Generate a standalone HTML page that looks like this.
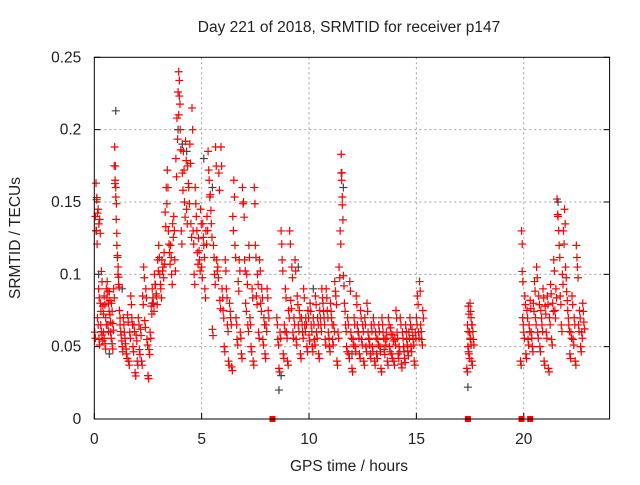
<!DOCTYPE html>
<html><head><meta charset="utf-8"><style>
body{margin:0;background:#fff;}
svg text{font-family:"Liberation Sans",sans-serif;fill:#222;}
</style></head><body>
<svg id="chart" width="640" height="480" xmlns="http://www.w3.org/2000/svg">
<text x="349" y="32" font-size="15.5" text-anchor="middle">Day 221 of 2018, SRMTID for receiver p147</text>
<text x="349" y="471" font-size="15.5" text-anchor="middle">GPS time / hours</text>
<text transform="translate(20,238) rotate(-90)" font-size="15.5" text-anchor="middle">SRMTID / TECUs</text>
<g id="grid"></g><g id="ticks"></g><g id="black"></g><g id="marks"></g><g id="gaps"></g>
<rect x="94.3" y="57.3" width="515.3" height="361.7" fill="none" stroke="#000" stroke-width="1"/>
</svg>
<script>
const xTicks=[0,5,10,15,20];
const yTicks=[0,0.05,0.1,0.15,0.2,0.25];
const yTickLabels=["0","0.05","0.1","0.15","0.2","0.25"];
const gapTimes=[8.3,17.4,19.9,20.3];
const blackPoints=[[0.2,0.1],[0.7,0.045],[1.0,0.213],[1.3,0.09],[2.7,0.08],[3.9,0.2],[4.1,0.19],[4.3,0.185],[5.1,0.18],[5.5,0.16],[8.6,0.02],[8.7,0.03],[9.5,0.105],[10.2,0.09],[11.5,0.17],[11.6,0.16],[12.0,0.045],[17.4,0.022],[21.6,0.15]];
const points=[
[0.02,0.06],[0.05,0.14],[0.08,0.163],[0.1,0.13],[0.12,0.153],[0.15,0.07],[0.18,0.145],[0.2,0.09],[0.22,0.055],[0.25,0.138],[0.28,0.08],[0.3,0.065],[0.33,0.102],[0.36,0.058],[0.4,0.078],[0.43,0.06],[0.46,0.085],[0.5,0.052],[0.53,0.07],[0.56,0.09],[0.6,0.095],[0.63,0.065],[0.66,0.08],[0.7,0.088],[0.73,0.072],[0.76,0.06],[0.8,0.08],[0.83,0.052],[0.86,0.066],[0.9,0.09],[0.93,0.175],[0.95,0.188],[0.97,0.165],[1.0,0.16],[1.02,0.138],[1.05,0.12],[1.08,0.113],[1.1,0.1],[1.13,0.098],[1.17,0.075],[1.2,0.065],[1.25,0.058],[1.3,0.05],[1.35,0.07],[1.4,0.06],[1.45,0.052],[1.5,0.045],[1.55,0.072],[1.6,0.04],[1.65,0.06],[1.7,0.085],[1.75,0.07],[1.8,0.05],[1.85,0.065],[1.9,0.032],[1.95,0.058],[2.0,0.04],[2.05,0.07],[2.1,0.048],[2.15,0.062],[2.2,0.04],[2.25,0.085],[2.3,0.105],[2.35,0.068],[2.4,0.09],[2.45,0.055],[2.5,0.03],[2.55,0.048],[2.6,0.06],[2.65,0.078],[2.7,0.09],[2.75,0.08],[2.8,0.1],[2.85,0.093],[2.9,0.085],[2.95,0.11],[3.0,0.12],[3.05,0.1],[3.1,0.09],[3.15,0.11],[3.2,0.105],[3.25,0.115],[3.3,0.143],[3.35,0.16],[3.4,0.172],[3.45,0.13],[3.5,0.115],[3.55,0.12],[3.6,0.1],[3.65,0.135],[3.7,0.14],[3.75,0.11],[3.8,0.18],[3.85,0.208],[3.9,0.226],[3.93,0.24],[3.96,0.234],[4.0,0.2],[4.05,0.13],[4.1,0.17],[4.15,0.185],[4.2,0.15],[4.25,0.192],[4.3,0.145],[4.35,0.175],[4.4,0.16],[4.45,0.19],[4.5,0.135],[4.55,0.215],[4.6,0.13],[4.65,0.1],[4.7,0.16],[4.75,0.14],[4.8,0.115],[4.85,0.125],[4.9,0.11],[4.95,0.145],[5.0,0.105],[5.05,0.135],[5.1,0.12],[5.15,0.09],[5.2,0.13],[5.25,0.14],[5.3,0.185],[5.35,0.165],[5.4,0.155],[5.45,0.135],[5.5,0.062],[5.55,0.12],[5.6,0.1],[5.65,0.188],[5.7,0.11],[5.75,0.105],[5.8,0.17],[5.85,0.082],[5.9,0.188],[5.95,0.09],[6.0,0.075],[6.05,0.05],[6.1,0.11],[6.15,0.09],[6.2,0.065],[6.25,0.04],[6.3,0.08],[6.35,0.07],[6.4,0.036],[6.45,0.14],[6.5,0.165],[6.55,0.12],[6.6,0.07],[6.65,0.055],[6.7,0.095],[6.75,0.11],[6.8,0.06],[6.85,0.045],[6.9,0.16],[6.95,0.15],[7.0,0.11],[7.05,0.08],[7.1,0.1],[7.15,0.065],[7.2,0.12],[7.25,0.07],[7.3,0.05],[7.35,0.09],[7.4,0.04],[7.45,0.16],[7.5,0.12],[7.55,0.085],[7.6,0.1],[7.65,0.06],[7.7,0.11],[7.75,0.08],[7.8,0.09],[7.85,0.055],[7.9,0.07],[7.95,0.045],[8.0,0.065],[8.05,0.09],[8.1,0.075],[8.5,0.07],[8.55,0.055],[8.6,0.035],[8.65,0.06],[8.7,0.13],[8.75,0.11],[8.8,0.045],[8.85,0.065],[8.9,0.09],[8.95,0.06],[9.0,0.04],[9.05,0.075],[9.1,0.13],[9.15,0.082],[9.2,0.105],[9.25,0.06],[9.3,0.07],[9.35,0.11],[9.4,0.055],[9.45,0.085],[9.5,0.065],[9.55,0.075],[9.6,0.045],[9.65,0.07],[9.7,0.06],[9.75,0.09],[9.8,0.065],[9.85,0.07],[9.9,0.05],[9.95,0.075],[10.0,0.058],[10.05,0.08],[10.1,0.065],[10.15,0.05],[10.2,0.07],[10.25,0.055],[10.3,0.085],[10.35,0.06],[10.4,0.07],[10.45,0.045],[10.5,0.075],[10.55,0.065],[10.6,0.09],[10.65,0.08],[10.7,0.07],[10.75,0.055],[10.8,0.09],[10.85,0.075],[10.9,0.06],[10.95,0.05],[11.0,0.08],[11.05,0.07],[11.1,0.055],[11.15,0.065],[11.2,0.095],[11.25,0.085],[11.3,0.04],[11.35,0.06],[11.4,0.105],[11.45,0.13],[11.5,0.183],[11.52,0.165],[11.55,0.148],[11.6,0.099],[11.65,0.08],[11.7,0.065],[11.75,0.05],[11.8,0.07],[11.85,0.045],[11.9,0.095],[11.95,0.06],[12.0,0.035],[12.05,0.055],[12.1,0.07],[12.15,0.05],[12.2,0.085],[12.25,0.065],[12.3,0.06],[12.35,0.045],[12.4,0.075],[12.45,0.055],[12.5,0.065],[12.55,0.04],[12.6,0.07],[12.65,0.05],[12.7,0.08],[12.75,0.06],[12.8,0.055],[12.85,0.045],[12.9,0.065],[12.95,0.05],[13.0,0.07],[13.05,0.04],[13.1,0.06],[13.15,0.045],[13.2,0.055],[13.25,0.065],[13.3,0.05],[13.35,0.035],[13.4,0.07],[13.45,0.06],[13.5,0.048],[13.55,0.055],[13.6,0.06],[13.65,0.04],[13.7,0.07],[13.75,0.05],[13.8,0.063],[13.85,0.045],[13.9,0.058],[13.95,0.04],[14.0,0.055],[14.05,0.075],[14.1,0.06],[14.15,0.045],[14.2,0.05],[14.25,0.07],[14.3,0.038],[14.35,0.06],[14.4,0.05],[14.45,0.042],[14.5,0.065],[14.55,0.055],[14.6,0.047],[14.65,0.06],[14.7,0.07],[14.75,0.05],[14.8,0.062],[14.85,0.055],[14.9,0.04],[14.95,0.06],[15.0,0.07],[15.05,0.085],[15.1,0.06],[15.15,0.095],[15.2,0.065],[15.25,0.055],[15.3,0.075],
[17.35,0.035],[17.38,0.065],[17.4,0.05],[17.42,0.078],[17.45,0.045],[17.48,0.06],[17.5,0.08],[17.52,0.055],[17.55,0.07],[17.58,0.04],[17.6,0.065],[17.65,0.055],
[19.85,0.04],[19.9,0.13],[19.93,0.102],[19.95,0.07],[20.0,0.06],[20.05,0.085],[20.1,0.045],[20.15,0.075],[20.2,0.055],[20.25,0.065],[20.3,0.082],[20.35,0.06],[20.4,0.05],[20.45,0.08],[20.5,0.095],[20.55,0.07],[20.6,0.105],[20.65,0.06],[20.7,0.085],[20.75,0.05],[20.8,0.075],[20.85,0.065],[20.9,0.09],[20.95,0.04],[21.0,0.078],[21.05,0.06],[21.1,0.085],[21.15,0.035],[21.2,0.07],[21.25,0.093],[21.3,0.055],[21.35,0.08],[21.4,0.11],[21.45,0.075],[21.5,0.09],[21.55,0.152],[21.6,0.14],[21.65,0.12],[21.7,0.085],[21.75,0.065],[21.8,0.1],[21.85,0.13],[21.9,0.145],[21.95,0.105],[22.0,0.088],[22.05,0.075],[22.1,0.065],[22.15,0.045],[22.2,0.06],[22.25,0.085],[22.3,0.055],[22.35,0.07],[22.4,0.04],[22.45,0.12],[22.5,0.105],[22.55,0.065],[22.6,0.075],[22.65,0.05],[22.7,0.06],[22.75,0.08],[22.8,0.067]
];
const NS='http://www.w3.org/2000/svg';
const X0=94.3,X1=609.6,Y0=419,Y1=57.3;
function xs(t){return X0+(X1-X0)*t/24;}
function ys(v){return Y0-(Y0-Y1)*v/0.25;}
function mk(tag,attrs,parent){const e=document.createElementNS(NS,tag);for(const k in attrs)e.setAttribute(k,attrs[k]);parent.appendChild(e);return e;}
const grid=document.getElementById('grid'),ticks=document.getElementById('ticks');
xTicks.forEach(t=>{const x=xs(t);
 if(t>0){const g=mk('line',{x1:x,x2:x,y1:Y1,y2:Y0,stroke:'#a0a0a0','stroke-dasharray':'2,3'},grid);
 
 }
 const l=mk('line',{x1:x,x2:x,y1:Y0,y2:Y0-6,stroke:'#000'},ticks);
 
 
 const tx=mk('text',{x:x,y:Y0+25,'font-size':15.5,'text-anchor':'middle'},ticks);tx.textContent=t;
 
 
});
yTicks.forEach((v,i)=>{const y=ys(v);
 if(v>0&&v<0.25){const g=mk('line',{x1:X0,x2:X1,y1:y,y2:y,stroke:'#a0a0a0','stroke-dasharray':'2,3'},grid);
 
 }
 const l=mk('line',{x1:X0,x2:X0+6,y1:y,y2:y,stroke:'#000'},ticks);
 
 
 const l2=mk('line',{x1:X1,x2:X1-6,y1:y,y2:y,stroke:'#000'},ticks);
 
 
 const tx=mk('text',{x:X0-13,y:y+5,'font-size':15.5,'text-anchor':'end'},ticks);tx.textContent=yTickLabels[i];
 
 
});
function plus(g,t,v,col){const x=xs(t),y=ys(v);
 const p=mk('path',{d:`M${x-4},${y}h8M${x},${y-4}v8`,stroke:col,'stroke-width':1.2,fill:'none'},g);return p;}
const bg=document.getElementById('black');
blackPoints.forEach(p=>{const e=plus(bg,p[0],p[1],'#444');
 
 });
const mg=document.getElementById('marks');
points.forEach(p=>{const e=plus(mg,p[0],p[1],'#ff0000');
 
 
 const e2=plus(mg,p[0]+0.03,p[1]*0.93,'#ff0000');
 
 });
const gg=document.getElementById('gaps');
gapTimes.forEach(t=>{const r=mk('rect',{x:xs(t)-3,y:Y0-3,width:6,height:6,fill:'#ff0000'},gg);
 
 });
</script>
</body></html>
